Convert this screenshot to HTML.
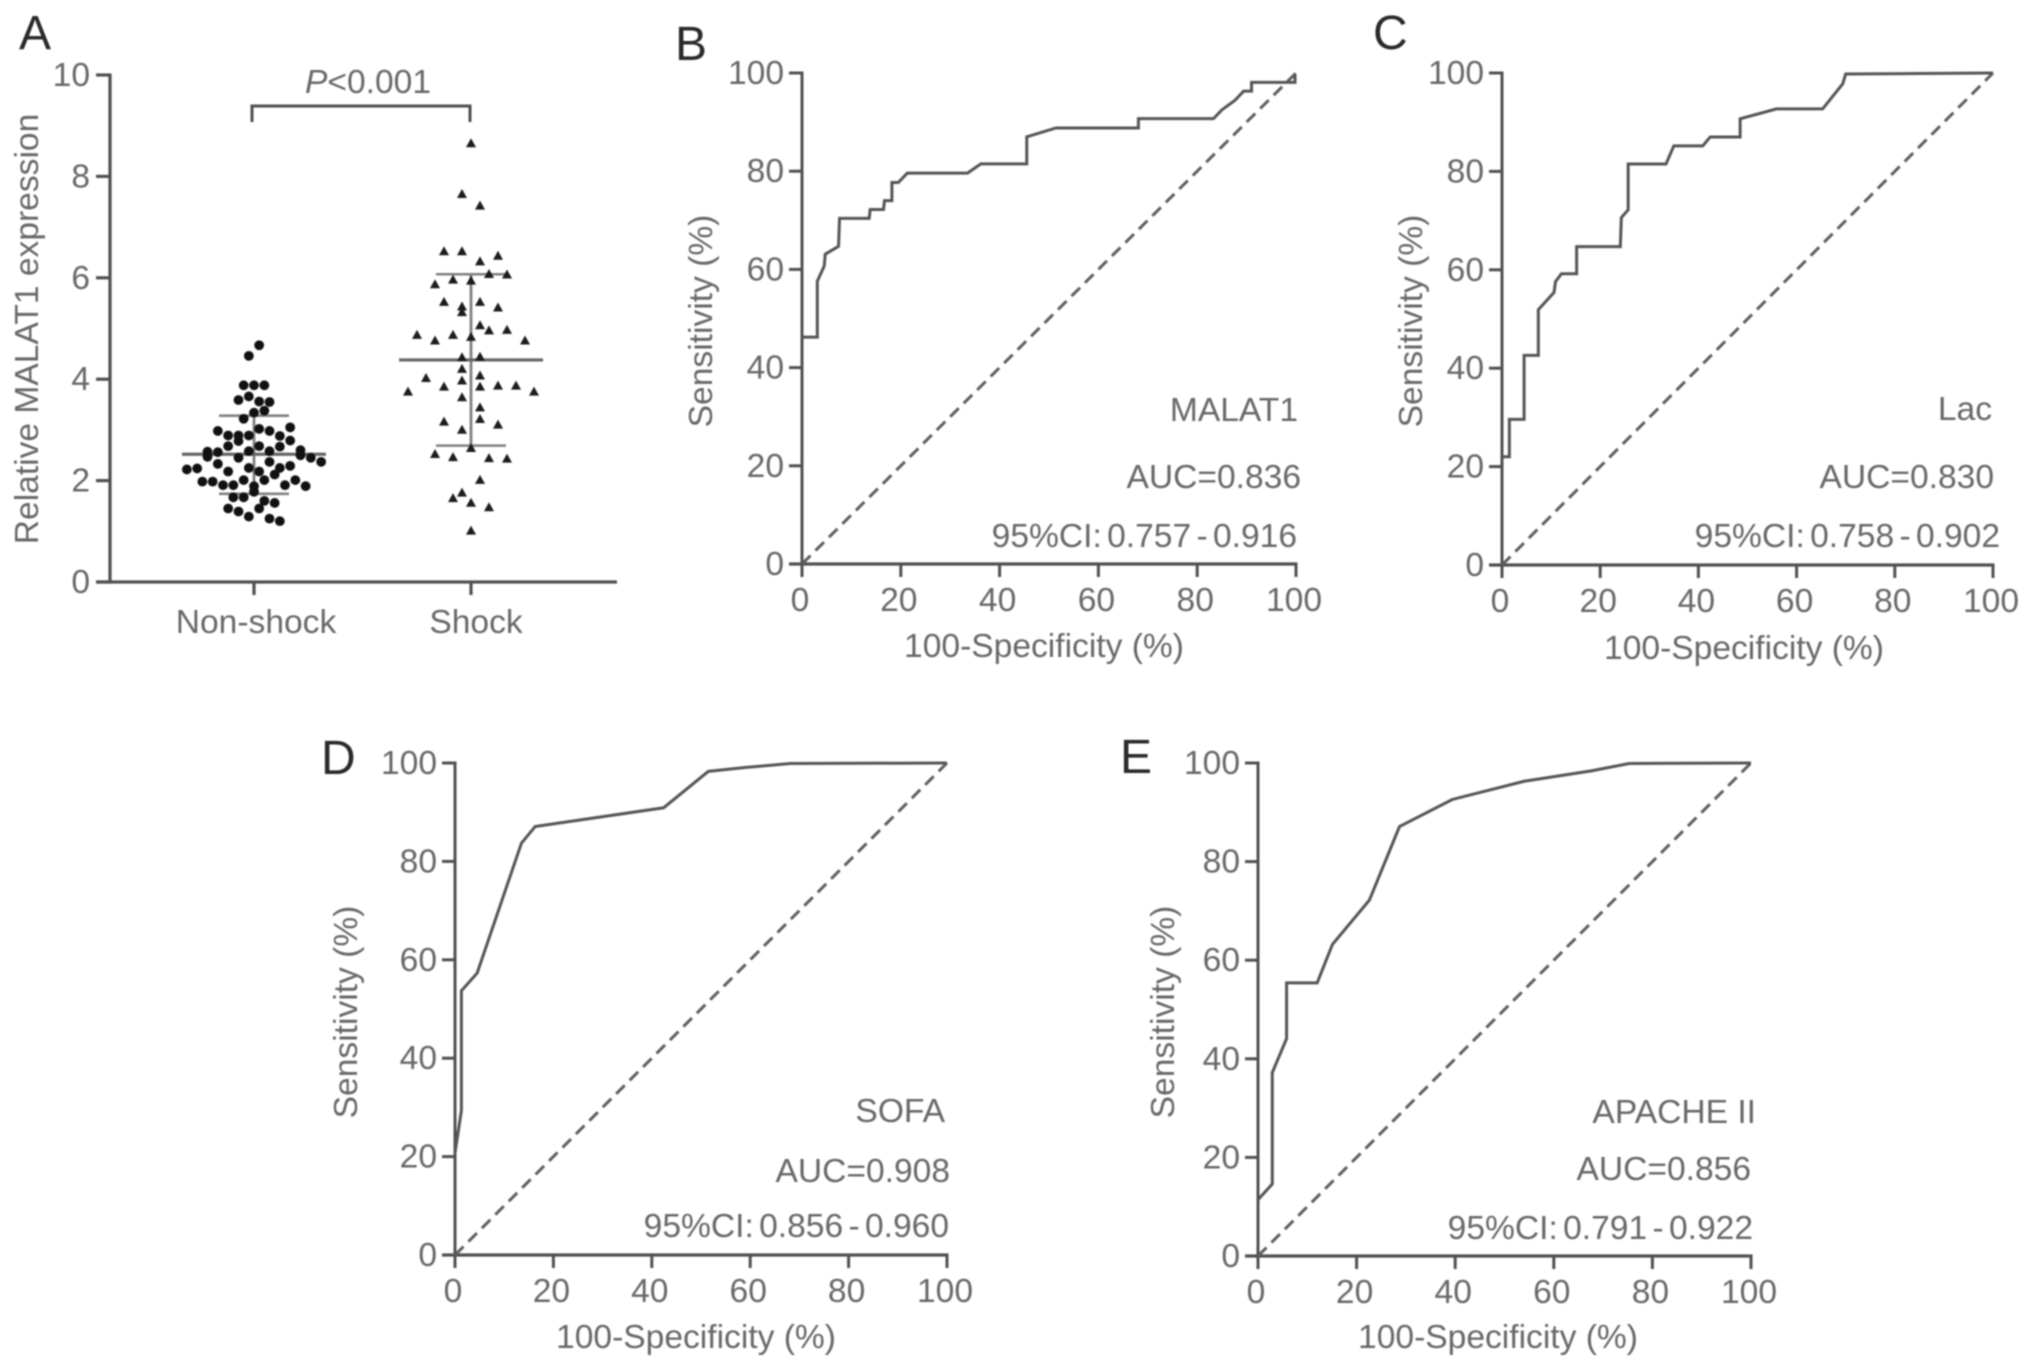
<!DOCTYPE html>
<html lang="en">
<head>
<meta charset="utf-8">
<title>MALAT1 expression and ROC curves</title>
<style>
html,body{margin:0;padding:0;background:#fff;}
svg{display:block;filter:blur(0.8px);}
text{font-family:"Liberation Sans",sans-serif;fill:#686868;font-size:33.6px;}
.letter{fill:#2a2a2a;font-size:48px;}
.end{text-anchor:end;}
.mid{text-anchor:middle;}
.ci{word-spacing:-4px;}
</style>
</head>
<body>
<svg id="figure" xmlns="http://www.w3.org/2000/svg" width="2032" height="1369" viewBox="0 0 2032 1369">
<rect width="2032" height="1369" fill="#fff"/>
<text class="letter" x="19" y="49">A</text>
<text class="letter" x="675" y="60">B</text>
<text class="letter" x="1373" y="49">C</text>
<text class="letter" x="321" y="774">D</text>
<text class="letter" x="1120" y="773">E</text>

<text class="mid" x="368" y="93"><tspan font-style="italic">P</tspan>&lt;0.001</text>
<text class="mid" transform="translate(38,329) rotate(-90)">Relative MALAT1 expression</text>
<text class="mid" x="256" y="633">Non-shock</text>
<text class="mid" x="476" y="633">Shock</text>

<text class="mid" transform="translate(712,321) rotate(-90)">Sensitivity (%)</text>
<text class="mid" x="1044" y="657">100-Specificity (%)</text>
<text class="end" x="1298" y="421">MALAT1</text>
<text class="end" x="1301" y="488">AUC=0.836</text>
<text class="end ci" x="1297" y="547">95%CI: 0.757 - 0.916</text>

<text class="mid" transform="translate(1422,321) rotate(-90)">Sensitivity (%)</text>
<text class="mid" x="1744" y="659">100-Specificity (%)</text>
<text class="end" x="1992" y="420">Lac</text>
<text class="end" x="1994" y="488">AUC=0.830</text>
<text class="end ci" x="2000" y="547">95%CI: 0.758 - 0.902</text>

<text class="mid" transform="translate(357,1012) rotate(-90)">Sensitivity (%)</text>
<text class="mid" x="696" y="1348">100-Specificity (%)</text>
<text class="end" x="945" y="1122">SOFA</text>
<text class="end" x="950" y="1182">AUC=0.908</text>
<text class="end ci" x="949" y="1237">95%CI: 0.856 - 0.960</text>

<text class="mid" transform="translate(1174,1012) rotate(-90)">Sensitivity (%)</text>
<text class="mid" x="1498" y="1348">100-Specificity (%)</text>
<text class="end" x="1756" y="1123">APACHE II</text>
<text class="end" x="1751" y="1180">AUC=0.856</text>
<text class="end ci" x="1753" y="1239">95%CI: 0.791 - 0.922</text>
</svg>

<script>
// ---------- Panel A data ----------
const scatterTicks = [0, 2, 4, 6, 8, 10];
const nonShockValues = [4.67,4.46,3.88,3.88,3.88,3.59,3.66,3.56,3.55,3.34,3.38,3.22,2.98,2.89,2.89,2.89,3.02,2.98,2.88,3.05,2.78,2.79,2.68,2.68,2.67,2.57,2.56,2.58,2.58,2.60,2.47,2.45,2.37,2.5,2.45,2.37,2.33,2.22,2.24,2.18,2.25,2.18,2.25,2.29,2.12,1.98,1.98,1.91,1.91,2.01,1.89,2.01,1.91,2.01,1.89,1.78,1.67,1.67,1.60,1.56,1.45,1.39,1.29,1.45,1.25,1.2];
const nonShockSlots = [0.5,-0.5,-1,0,1,-1.5,-0.5,0.5,1.5,0,1,-1,-3.5,-2.5,-1.5,-0.5,0.5,1.5,2.5,3.5,-1.5,3.5,-2.5,0.5,2.5,-4.5,-3.5,-0.5,1.5,4.5,-4.5,-1.5,1.5,4.5,5.5,6.5,-3.5,-6.5,-5.5,-2.5,-0.5,0.5,2.5,3.5,2,-5,-4,-3,-2,-1,0,1,3,4,5,0,-2,-1,1,2,-2.5,-1.5,-0.5,0.5,1.5,2.5];
const nonShockSummary = [1.74, 2.52, 3.28];
const shockValues = [8.65,7.65,7.42,6.52,6.52,6.43,6.32,6.07,6.06,5.87,5.96,5.94,5.52,5.52,5.43,5.41,5.32,5.06,4.96,4.97,4.87,4.87,4.83,4.76,4.76,4.43,4.44,4.2,4.07,4.02,3.97,3.85,3.85,3.87,3.87,3.75,3.75,3.64,3.44,3.21,3.16,3.10,3.0,2.64,2.52,2.46,2.44,2.43,2.01,1.76,1.65,1.56,1.47,1.01];
const shockSlots = [0,-1,1,-3,-1,3,1,2,4,-4,-2,0,-3,1,-1,3,-1,1,2,4,-6,-2,0,-4,6,-1,1,-1,1,-5,-1,-3,1,3,5,-7,7,-1,1,1,-3,3,-1,0,-4,-2,2,4,1,-1,-2,0,2,0];
const shockSummary = [2.69, 4.38, 6.07];

// ---------- ROC data ----------
const rocTicks = [0, 20, 40, 60, 80, 100];
const rocBx = [0,3.1,3.1,4.5,4.7,7.4,7.6,13.6,13.8,16.5,16.7,18.2,18.2,19.5,21.3,33.5,36.2,45.5,45.5,51.4,68.1,68.1,83.3,85,87.6,89.4,91,91,99.8,99.8];
const rocBy = [46.2,46.2,57.6,60.7,63.1,64.7,70.4,70.4,72.2,72.2,74,74,77.7,77.7,79.6,79.6,81.5,81.5,87,88.8,88.8,90.7,90.7,92.5,94.4,96.3,96.3,98.1,98.1,99.7];
const rocCx = [0,1.5,1.5,4.5,4.5,7.4,7.4,10.6,10.9,12.1,15.2,15.2,24.1,24.3,25.7,25.7,33.4,35,40.9,42.4,48.5,48.5,55.9,65.3,69.4,70,100];
const rocCy = [22,22,29.6,29.6,42.6,42.6,51.9,55.4,57.6,59.2,59.2,64.7,64.7,70.6,72.2,81.5,81.5,85.2,85.2,87,87,90.7,92.7,92.7,97.8,99.8,100];
const rocDx = [0,1.3,1.3,4.5,13.5,16.3,42.4,51.5,59.2,68.2,100];
const rocDy = [20.7,29.4,53.7,57.3,83.7,87.1,90.9,98.3,99.1,99.9,100];
const rocEx = [0,2.9,2.9,5.8,5.8,12,15.1,22.6,28.7,39.4,54,67.6,75.3,100];
const rocEy = [11.4,14.6,37.2,44.1,55.4,55.4,63.2,72.2,87.1,92.6,96.3,98.4,99.9,100];

const NS = 'http://www.w3.org/2000/svg';
const root = document.getElementById('figure');

function makeLine(x1, y1, x2, y2, color, width) {
  const el = document.createElementNS(NS, 'line');
  el.setAttribute('x1', x1);
  el.setAttribute('y1', y1);
  el.setAttribute('x2', x2);
  el.setAttribute('y2', y2);
  el.setAttribute('stroke', color);
  el.setAttribute('stroke-width', width);
  root.appendChild(el);
  return el;
}
function makeText(x, y, str, anchor) {
  const el = document.createElementNS(NS, 'text');
  el.setAttribute('x', x);
  el.setAttribute('y', y);
  el.setAttribute('text-anchor', anchor);
  el.textContent = str;
  root.appendChild(el);
  return el;
}

const AXIS = '#505050';

// ---------- Panel A ----------
const aLeft = 110, aRight = 617, aTop = 75, aBottom = 582;
const nonShockX = 254, shockX = 471;
const nonShockSpacing = 10.33, shockSpacing = 9;
function aY(v) { return aBottom + (aTop - aBottom) * v / 10; }

const aYAxis = makeLine(aLeft, aTop - 1.5, aLeft, aBottom + 1.5, AXIS, 3.2);


const aXAxis = makeLine(aLeft - 14, aBottom, aRight, aBottom, AXIS, 3.2);



scatterTicks.forEach(function (t) {
  const mark = makeLine(aLeft - 14, aY(t), aLeft, aY(t), AXIS, 3.2);
  
  
  const label = makeText(aLeft - 20, aY(t) + 11, String(t), 'end');
  
  
});
[nonShockX, shockX].forEach(function (x) {
  const mark = makeLine(x, aBottom, x, aBottom + 13, AXIS, 3.2);
  
  
});

const bracket = document.createElementNS(NS, 'path');
bracket.setAttribute('d', 'M' + (nonShockX - 2) + ' 122V106H' + (shockX - 1) + 'V122');
bracket.setAttribute('fill', 'none');
bracket.setAttribute('stroke', '#4f4f4f');
bracket.setAttribute('stroke-width', '3');


root.appendChild(bracket);

function drawSummary(cx, summary, groupName) {
  const stem = makeLine(cx, aY(summary[0]), cx, aY(summary[2]), '#808080', 2.8);
  
  
  const lower = makeLine(cx - 35, aY(summary[0]), cx + 35, aY(summary[0]), '#808080', 2.6);
  
  
  const upper = makeLine(cx - 35, aY(summary[2]), cx + 35, aY(summary[2]), '#808080', 2.6);
  
  
  const mean = makeLine(cx - 72, aY(summary[1]), cx + 72, aY(summary[1]), '#666', 3.2);
  
  
}
drawSummary(nonShockX, nonShockSummary, 'non-shock');
drawSummary(shockX, shockSummary, 'shock');

nonShockValues.forEach(function (v, i) {
  const dot = document.createElementNS(NS, 'circle');
  dot.setAttribute('cx', nonShockX + nonShockSlots[i] * nonShockSpacing);
  dot.setAttribute('cy', aY(v));
  dot.setAttribute('r', 4.9);
  dot.setAttribute('fill', '#111');
  
  
  root.appendChild(dot);
});
shockValues.forEach(function (v, i) {
  const x = shockX + shockSlots[i] * shockSpacing;
  const y = aY(v);
  const tri = document.createElementNS(NS, 'polygon');
  tri.setAttribute('points', x + ',' + (y - 5.2) + ' ' + (x + 5) + ',' + (y + 3.8) + ' ' + (x - 5) + ',' + (y + 3.8));
  tri.setAttribute('fill', '#1c1c1c');
  
  
  root.appendChild(tri);
});

// ---------- ROC panels ----------
function drawRoc(id, left, right, top, bottom, xs, ys) {
  const sx = function (v) { return left + (right - left) * v / 100; };
  const sy = function (v) { return bottom + (top - bottom) * v / 100; };

  const yAxis = makeLine(left, top - 1.5, left, bottom + 1.5, AXIS, 3);
  
  
  const xAxis = makeLine(left - 13, bottom, right + 1.5, bottom, AXIS, 3.2);
  
  

  rocTicks.forEach(function (t) {
    const yMark = makeLine(left - 13, sy(t), left, sy(t), AXIS, 3);
    
    
    const xMark = makeLine(sx(t), bottom, sx(t), bottom + 13, AXIS, 3);
    
    
    const yLabel = makeText(left - 18, sy(t) + 11, String(t), 'end');
    
    
    const xLabel = makeText(sx(t) - 2, bottom + 47, String(t), 'middle');
    
    
  });

  const diag = makeLine(sx(0), sy(0), sx(100), sy(100), '#5f5f5f', 3);
  diag.setAttribute('stroke-dasharray', '12 7');
  
  

  const curve = document.createElementNS(NS, 'polyline');
  curve.setAttribute('points', xs.map(function (x, i) { return sx(x) + ',' + sy(ys[i]); }).join(' '));
  curve.setAttribute('fill', 'none');
  curve.setAttribute('stroke', '#555');
  curve.setAttribute('stroke-width', '3');
  
  
  root.appendChild(curve);
}
drawRoc('b', 802, 1296, 73, 564, rocBx, rocBy);
drawRoc('c', 1502, 1993, 73, 565, rocCx, rocCy);
drawRoc('d', 455, 947, 763, 1255, rocDx, rocDy);
drawRoc('e', 1258, 1751, 763, 1256, rocEx, rocEy);
</script>
</body>
</html>
